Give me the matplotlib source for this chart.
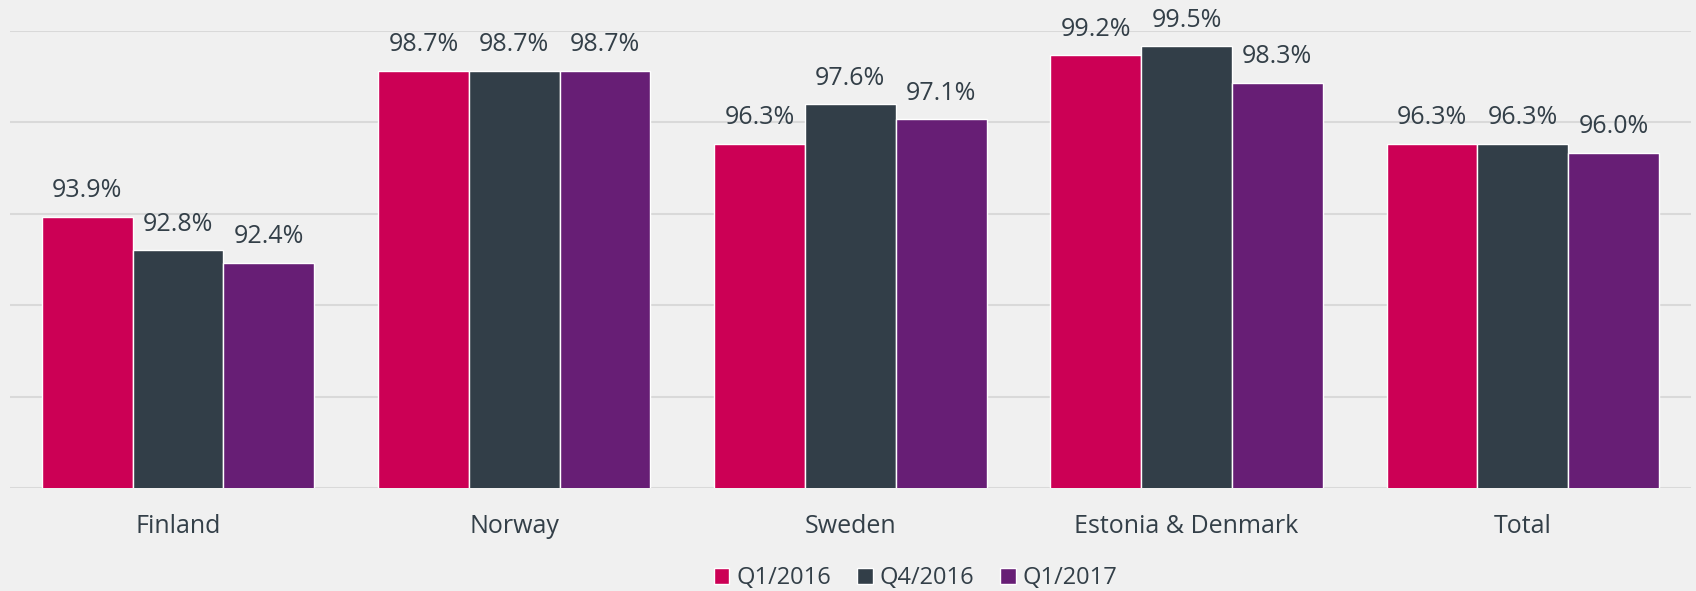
import matplotlib
matplotlib.use("Agg")
import matplotlib.pyplot as plt
import numpy as np

categories = ["Finland", "Norway", "Sweden", "Estonia & Denmark", "Total"]
series_names = ["Q1/2016", "Q4/2016", "Q1/2017"]
q1_2016 = [93.9, 98.7, 96.3, 99.2, 96.3]
q4_2016 = [92.8, 98.7, 97.6, 99.5, 96.3]
q1_2017 = [92.4, 98.7, 97.1, 98.3, 96.0]
colors = ["#CC0055", "#323E48", "#671E75"]

plt.rcParams['font.family'] = ['Open Sans', 'DejaVu Sans']
text_color = "#333F48"
bg = "#F0F0F0"

fig = plt.figure(figsize=(16.96, 5.91), dpi=100, facecolor=bg)
ax = fig.add_axes([0.0059, 0.1743, 0.991, 0.9475 - 0.1743], facecolor=bg)

x = np.arange(len(categories))
width = 0.27
for i, (vals, name, c) in enumerate(zip([q1_2016, q4_2016, q1_2017], series_names, colors)):
    bars = ax.bar(x + (i - 1) * width, vals, width, color=c, edgecolor="white",
                  linewidth=1.0, label=name, zorder=3)
    for b, v in zip(bars, vals):
        ax.annotate(f"{v:.1f}%", (b.get_x() + b.get_width() / 2, v),
                    xytext=(0, 14), textcoords="offset points",
                    ha="center", va="baseline", fontsize=18, color=text_color)

ax.set_ylim(85, 100)
ax.set_xlim(-0.5, len(categories) - 0.5)
ax.set_yticks(np.arange(85, 100.1, 3))
ax.yaxis.grid(True, color="#D9D9D9", linewidth=1.5, zorder=0)
ax.set_axisbelow(True)
ax.tick_params(axis="y", left=False, labelleft=False)
ax.tick_params(axis="x", bottom=False, labelsize=18, labelcolor=text_color, pad=15)
ax.set_xticks(x)
ax.set_xticklabels(categories)
for s in ax.spines.values():
    s.set_visible(False)

fig.legend(loc="center", bbox_to_anchor=(0.54, 0.022), ncol=3, frameon=False,
           fontsize=17, labelcolor=text_color, handlelength=0.65, handleheight=0.65,
           handletextpad=0.3, columnspacing=1.1)

fig.savefig("out.png", dpi=100, facecolor=bg)
